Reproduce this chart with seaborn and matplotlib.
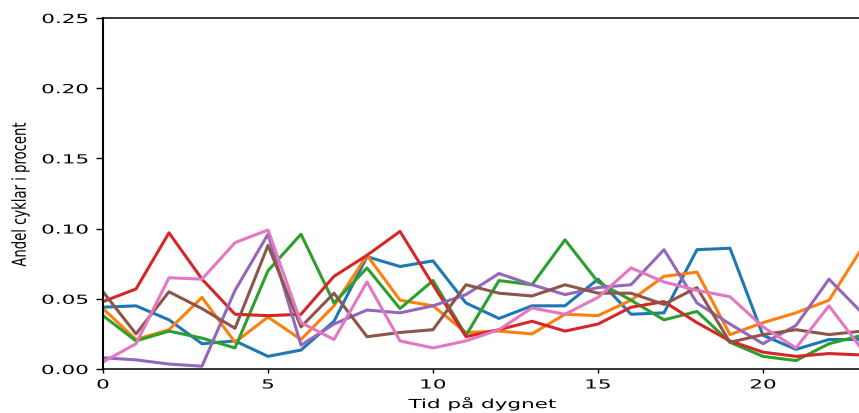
import numpy as np
import pandas as pd
import matplotlib
matplotlib.use("Agg")
import matplotlib.pyplot as plt
import seaborn as sns
from matplotlib import patheffects
from matplotlib.transforms import Affine2D

# Hour of day
timmar = list(range(24))

# Share of bikes per hour, one series per line
serie_1 = [0.044, 0.045, 0.035, 0.018, 0.020, 0.009, 0.0135, 0.034, 0.080, 0.073, 0.077, 0.047,
           0.036, 0.045, 0.045, 0.064, 0.039, 0.040, 0.085, 0.086, 0.024, 0.014, 0.021, 0.021]
serie_2 = [0.043, 0.021, 0.028, 0.051, 0.019, 0.037, 0.021, 0.045, 0.081, 0.049, 0.045, 0.026,
           0.027, 0.025, 0.039, 0.038, 0.049, 0.066, 0.069, 0.0245, 0.033, 0.040, 0.049, 0.086]
serie_3 = [0.038, 0.020, 0.027, 0.022, 0.015, 0.070, 0.096, 0.047, 0.072, 0.043, 0.063, 0.024,
           0.063, 0.060, 0.092, 0.062, 0.049, 0.035, 0.041, 0.019, 0.009, 0.006, 0.018, 0.024]
serie_4 = [0.048, 0.057, 0.097, 0.064, 0.039, 0.038, 0.039, 0.066, 0.081, 0.098, 0.060, 0.023,
           0.028, 0.034, 0.027, 0.032, 0.044, 0.048, 0.033, 0.020, 0.012, 0.009, 0.011, 0.010]
serie_5 = [0.008, 0.0065, 0.0035, 0.002, 0.056, 0.096, 0.017, 0.032, 0.042, 0.040, 0.045, 0.053,
           0.068, 0.060, 0.053, 0.058, 0.060, 0.085, 0.047, 0.032, 0.018, 0.031, 0.064, 0.040]
serie_6 = [0.055, 0.025, 0.055, 0.043, 0.029, 0.088, 0.030, 0.054, 0.023, 0.026, 0.028, 0.060,
           0.054, 0.052, 0.060, 0.054, 0.054, 0.046, 0.058, 0.019, 0.0245, 0.028, 0.0245, 0.027]
serie_7 = [0.005, 0.018, 0.065, 0.064, 0.090, 0.099, 0.033, 0.021, 0.062, 0.020, 0.015, 0.020,
           0.028, 0.0435, 0.039, 0.051, 0.072, 0.062, 0.056, 0.0515, 0.030, 0.015, 0.045, 0.014]

serier = {"1": serie_1, "2": serie_2, "3": serie_3, "4": serie_4,
          "5": serie_5, "6": serie_6, "7": serie_7}

y_ticks = [0.00, 0.05, 0.10, 0.15, 0.20, 0.25]
x_ticks = [0, 5, 10, 15, 20]

df = pd.concat(
    [pd.DataFrame({"timme": timmar, "andel": v, "serie": k}) for k, v in serier.items()],
    ignore_index=True,
)


class Stretch(patheffects.AbstractPathEffect):
    """Widen glyphs horizontally around a fixed anchor of the text."""

    def __init__(self, sx, anchor="center"):
        super().__init__()
        self.sx = sx
        self.anchor = anchor

    def draw_path(self, renderer, gc, tpath, affine, rgbFace=None):
        ext = tpath.get_extents(affine)
        if self.anchor == "right":
            a = ext.x1
        elif self.anchor == "left":
            a = ext.x0
        else:
            a = 0.5 * (ext.x0 + ext.x1)
        t = affine + Affine2D().translate(-a, 0).scale(self.sx, 1.0).translate(a, 0)
        renderer.draw_path(gc, tpath, t, rgbFace)


fig = plt.figure(figsize=(8.59, 4.14), dpi=100)
ax = fig.add_axes([103 / 859, 44 / 414, 759 / 859, 351 / 414])

sns.lineplot(data=df, x="timme", y="andel", hue="serie", hue_order=list(serier.keys()),
             palette="tab10", linewidth=2.2, legend=False, ax=ax)

ax.set_xlim(0, 23)
ax.set_ylim(0, 0.25)
ax.set_xticks(x_ticks)
ax.set_yticks(y_ticks)
ax.set_xticklabels([str(t) for t in x_ticks])
ax.set_yticklabels([f"{t:.2f}" for t in y_ticks])

SX = 1.72
for lbl in ax.get_yticklabels():
    lbl.set_fontsize(9)
    lbl.set_path_effects([Stretch(SX, "right")])
for lbl in ax.get_xticklabels():
    lbl.set_fontsize(9)
    lbl.set_path_effects([Stretch(SX, "center")])

ax.tick_params(axis="y", length=5, width=1.0, pad=5.5)
ax.tick_params(axis="x", length=2.8, width=1.0, pad=4)
for side in ["left", "bottom", "top", "right"]:
    ax.spines[side].set_linewidth(1.1)
ax.spines["left"].set_linewidth(1.5)

ax.set_xlabel("Tid på dygnet", fontsize=9, path_effects=[Stretch(SX, "center")])
ax.xaxis.set_label_coords(0.5, -0.08)

ax.set_ylabel("Andel cyklar i procent", fontsize=9.5,
              path_effects=[Stretch(1.45, "center")])
ax.yaxis.set_label_coords(-0.100, 0.5)

fig.savefig("out.png", dpi=100)
